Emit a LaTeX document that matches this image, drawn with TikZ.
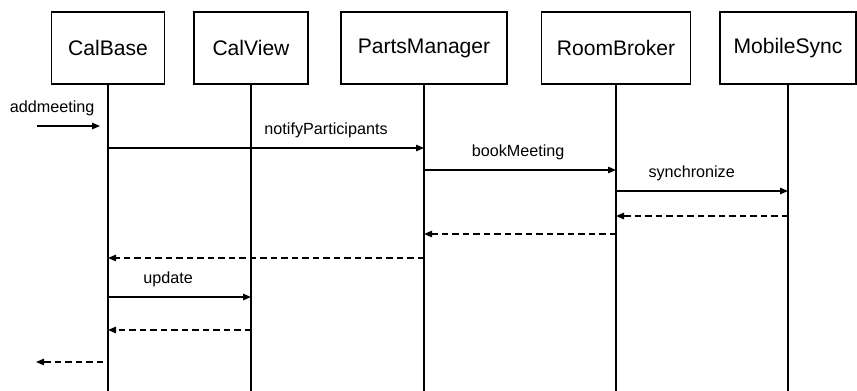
\documentclass[tikz,border=0pt]{standalone}
\usepackage{fontspec}
\setmainfont{Liberation Sans}
\usetikzlibrary{arrows.meta,positioning}

\begin{document}
\begin{tikzpicture}[
    obj/.style={rectangle, draw, line width=1pt,
      minimum height=1.44cm,
      font=\fontsize{12}{14}\selectfont},
    life/.style={line width=1pt},
    call/.style={-{Triangle[length=1.6mm,width=1.3mm]}, line width=0.8pt},
    reply/.style={call, dash pattern=on 1.3mm off 0.8mm},
    lbl/.style={font=\fontsize{9.2}{11}\selectfont,
      above, inner sep=1pt, yshift=1.5mm}
  ]

    \useasboundingbox (0,0) rectangle (17.14,-7.82);

    \node[obj, minimum width=2.26cm] (calbase) at (2.16,-0.96) {CalBase};
    \node[obj, minimum width=2.28cm] (calview) at (5.02,-0.96) {CalView};
    \node[obj, minimum width=3.32cm] (parts) at (8.48,-0.96) {PartsManager};
    \node[obj, minimum width=2.98cm] (room) at (12.32,-0.96) {RoomBroker};
    \node[obj, minimum width=2.72cm] (mobile) at (15.76,-0.96) {MobileSync};

    % lifelines
    \coordinate (bottom) at (0,-7.82);
    \draw[life] (calbase) -- (calbase |- bottom);
    \draw[life] (calview) -- (calview |- bottom);
    \draw[life] (parts) -- (parts |- bottom);
    \draw[life] (room) -- (room |- bottom);
    \draw[life] (mobile) -- (mobile |- bottom);

    % message levels
    \coordinate (m0) at (0.74,-2.52);
    \coordinate (m1) at (0,-2.96);
    \coordinate (m2) at (0,-3.40);
    \coordinate (m3) at (0,-3.82);
    \coordinate (r1) at (0,-4.32);
    \coordinate (r2) at (0,-4.68);
    \coordinate (r3) at (0,-5.16);
    \coordinate (m4) at (0,-5.94);
    \coordinate (r4) at (0,-6.60);
    \coordinate (r5) at (0.72,-7.24);

    \draw[call] (m0) -- node[lbl, pos=0.24] {addmeeting}
      ([xshift=-1.6mm]calbase |- m0);
    \draw[call] (calbase |- m1) -- node[lbl, pos=0.69] {notifyParticipants}
      (parts |- m1);
    \draw[call] (parts |- m2) -- node[lbl, pos=0.49] {bookMeeting}
      (room |- m2);
    \draw[call] (room |- m3) -- node[lbl, pos=0.44] {synchronize}
      (mobile |- m3);

    \draw[reply] (mobile |- r1) -- (room |- r1);
    \draw[reply] (room |- r2) -- (parts |- r2);
    \draw[reply] (parts |- r3) -- (calbase |- r3);

    \draw[call] (calbase |- m4) -- node[lbl, pos=0.42] {update}
      (calview |- m4);
    \draw[reply] (calview |- r4) -- (calbase |- r4);
    \draw[reply] ([xshift=-1mm]calbase |- r5) -- (r5);

\end{tikzpicture}
\end{document}
